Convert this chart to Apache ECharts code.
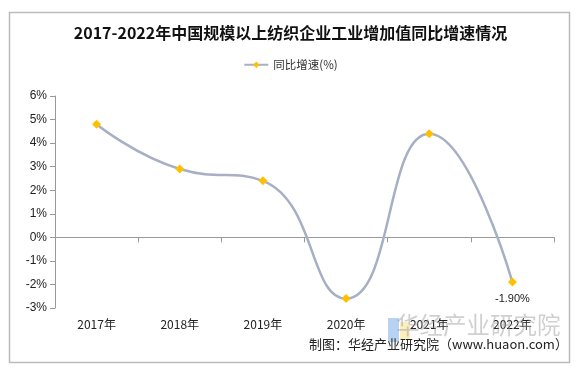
<!DOCTYPE html>
<html><head><meta charset="utf-8">
<script src="https://cdn.jsdelivr.net/npm/echarts@6/dist/echarts.min.js"></script>
<style>html,body{margin:0;padding:0;background:#fff}#c{width:581px;height:371px}</style>
</head><body><div id="c"></div>
<script>
var categories = ['2017年','2018年','2019年','2020年','2021年','2022年'];
var growth = [4.8, 2.9, 2.4, -2.6, 4.4, -1.9];
var seriesName = '同比增速(%)';
var titleText = '2017-2022年中国规模以上纺织企业工业增加值同比增速情况';
var sourceText = '制图：华经产业研究院（www.huaon.com）';
var watermarkText = '华经产业研究院';

var chart = echarts.init(document.getElementById('c'));
chart.setOption({
  animation: false,
  backgroundColor: '#fff',
  title: {
    text: titleText, left: 'center', top: 20,
    textStyle: {fontFamily: 'Noto Sans CJK SC', fontWeight: 'bold', fontSize: 16, color: '#111'}
  },
  legend: {
    data: [seriesName], top: 54, left: 'center', itemWidth: 24, itemHeight: 8, itemGap: 4,
    textStyle: {fontFamily: 'Noto Sans CJK SC', fontSize: 11.5, color: '#333'}
  },
  grid: {left: 55, right: 27, top: 96, bottom: 63},
  xAxis: {
    type: 'category', data: categories, boundaryGap: true,
    axisLine: {lineStyle: {color: '#999', width: 1}},
    axisTick: {show: true, length: 5, alignWithLabel: false, lineStyle: {color: '#999'}},
    axisLabel: {margin: 10, fontFamily: 'Noto Sans CJK SC', fontSize: 12, color: '#222'}
  },
  yAxis: {
    type: 'value', min: -3, max: 6, interval: 1,
    splitLine: {show: false},
    axisLine: {show: true, lineStyle: {color: '#999', width: 1}},
    axisTick: {show: true, length: 5, lineStyle: {color: '#999'}},
    axisLabel: {formatter: '{value}%', margin: 8, fontFamily: 'Liberation Sans', fontSize: 12, color: '#222'}
  },
  series: [{
    name: seriesName, type: 'line', data: growth, smooth: 0.5,
    symbol: 'diamond', symbolSize: 9,
    lineStyle: {color: '#A6AFC3', width: 2.5},
    itemStyle: {color: '#FFC000'},
    label: {
      show: true, position: 'bottom', distance: 7,
      fontFamily: 'Liberation Sans', fontSize: 11, color: '#222',
      formatter: function (p) { return p.dataIndex === growth.length - 1 ? p.value.toFixed(2) + '%' : ''; }
    }
  }],
  graphic: [
    {type: 'rect', shape: {x: 9.5, y: 12.5, width: 560, height: 350}, style: {fill: 'none', stroke: '#bbb', lineWidth: 1.5}, z: -1},
    {type: 'rect', shape: {x: 388, y: 318, width: 11, height: 24}, style: {fill: '#B8D3F2'}, z: 0},
    {type: 'rect', shape: {x: 400, y: 322, width: 10, height: 18}, style: {fill: '#FBEFC0'}, z: 0},
    {type: 'text', left: 396, top: 313, style: {text: watermarkText, fontFamily: 'Noto Sans CJK SC', fontSize: 23.5, fill: 'rgba(150,150,150,0.45)'}, z: 1},
    {type: 'text', left: 309, top: 338, style: {text: sourceText, fontFamily: 'Noto Sans CJK SC', fontSize: 13, fill: '#222'}, z: 2}
  ]
});
</script></body></html>
